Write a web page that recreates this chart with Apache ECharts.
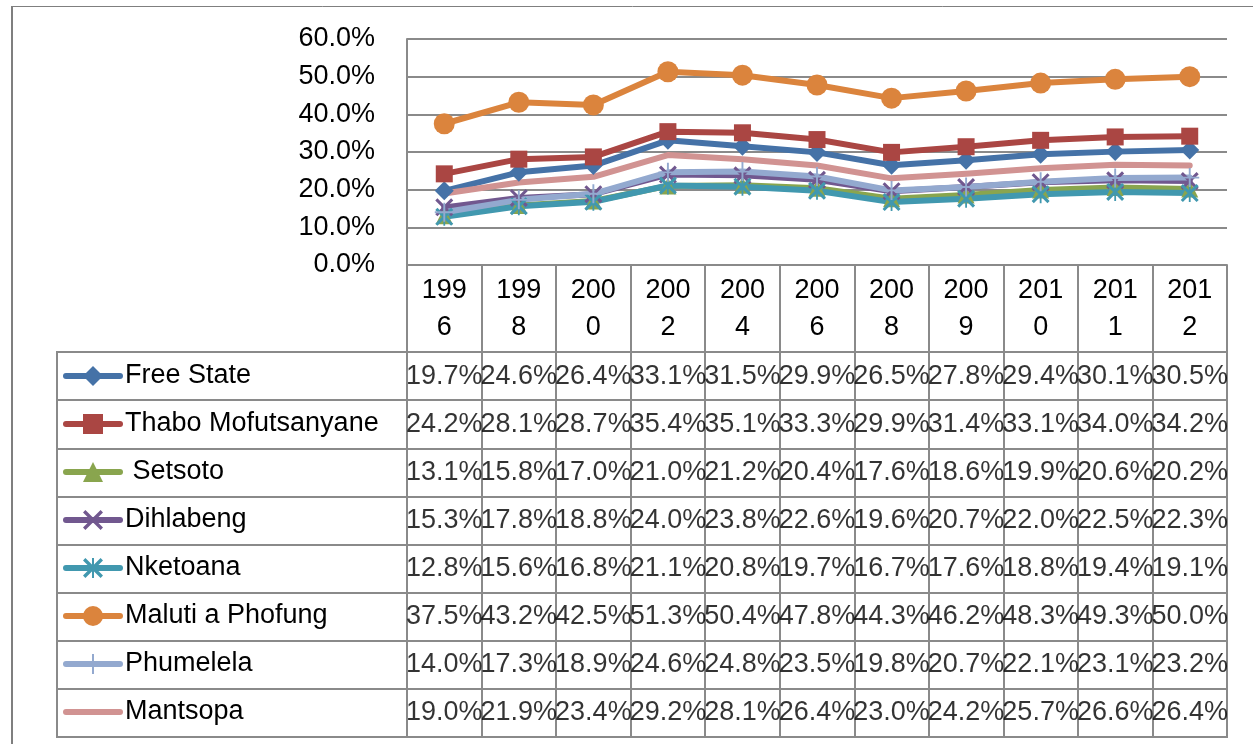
<!DOCTYPE html>
<html>
<head>
<meta charset="utf-8">
<script src="https://cdn.jsdelivr.net/npm/echarts@6/dist/echarts.min.js"></script>
<style>html,body{margin:0;padding:0;background:#fff;}#c{width:1253px;height:744px;}</style>
</head>
<body>
<div id="c"></div>
<script>
const years = ['1996','1998','2000','2002','2004','2006','2008','2009','2010','2011','2012'];
const names = ['Free State','Thabo Mofutsanyane',' Setsoto','Dihlabeng','Nketoana','Maluti a Phofung','Phumelela','Mantsopa'];
const freeState = [19.7,24.6,26.4,33.1,31.5,29.9,26.5,27.8,29.4,30.1,30.5];
const thaboMofutsanyane = [24.2,28.1,28.7,35.4,35.1,33.3,29.9,31.4,33.1,34.0,34.2];
const setsoto = [13.1,15.8,17.0,21.0,21.2,20.4,17.6,18.6,19.9,20.6,20.2];
const dihlabeng = [15.3,17.8,18.8,24.0,23.8,22.6,19.6,20.7,22.0,22.5,22.3];
const nketoana = [12.8,15.6,16.8,21.1,20.8,19.7,16.7,17.6,18.8,19.4,19.1];
const malutiAPhofung = [37.5,43.2,42.5,51.3,50.4,47.8,44.3,46.2,48.3,49.3,50.0];
const phumelela = [14.0,17.3,18.9,24.6,24.8,23.5,19.8,20.7,22.1,23.1,23.2];
const mantsopa = [19.0,21.9,23.4,29.2,28.1,26.4,23.0,24.2,25.7,26.6,26.4];
const yTicks = [0,10,20,30,40,50,60];

const seriesValues = [freeState, thaboMofutsanyane, setsoto, dihlabeng, nketoana, malutiAPhofung, phumelela, mantsopa];
const colors = ['#4572A7','#AA4643','#89A54E','#71588F','#4198AF','#DB843D','#93A9CF','#D19392'];
const X = 'path://M0,1.2L1.2,0L10,8.8L8.8,10Z M8.8,0L10,1.2L1.2,10L0,8.8Z';
const STAR = 'path://M0,1.2L1.2,0L10,8.8L8.8,10Z M8.8,0L10,1.2L1.2,10L0,8.8Z M4.5,0L5.5,0L5.5,10L4.5,10Z';
const PLUS = 'path://M4.5,0L5.5,0L5.5,10L4.5,10Z M0,4.5L10,4.5L10,5.5L0,5.5Z';
const symbols = ['diamond','rect','triangle',X,STAR,'circle',PLUS,'none'];
const symbolSizes = [19,17,17,18,18,21,19,0];

const FONT = 'Liberation Sans';
const FS = 27;
const GRAY = '#8a8a8a';

const lineSeries = names.map((n,i)=>({
  name: n, type: 'line', xAxisIndex: 0, yAxisIndex: 0,
  data: seriesValues[i],
  symbol: symbols[i], symbolSize: symbolSizes[i], showSymbol: symbols[i] !== 'none',
  lineStyle: {color: colors[i], width: 6, cap: 'round', join: 'round'},
  itemStyle: {color: colors[i]},
  emphasis: {disabled: true}, silent: true, animation: false
}));

const cellData = [];
seriesValues.forEach((vals,i)=>vals.forEach((v,j)=>cellData.push([j,i,v])));

const legendData = names.map((n,i)=> symbols[i] === 'none' ? {name: n, itemStyle: {opacity: 0}} : {name: n});

const chart = echarts.init(document.getElementById('c'), null, {renderer:'canvas'});
chart.setOption({
  backgroundColor: '#fff',
  animation: false,
  textStyle: {fontFamily: FONT},
  graphic: [
    {type:'line', shape:{x1:12,y1:6,x2:12,y2:744}, style:{stroke:'#7f7f7f', lineWidth:2}, silent:true},
    {type:'line', shape:{x1:12,y1:6.5,x2:1253,y2:6.5}, style:{stroke:'#7f7f7f', lineWidth:1}, silent:true}
  ],
  legend: {
    orient: 'vertical', left: 63, top: 352, padding: 0, itemGap: 0,
    itemWidth: 54, itemHeight: 25, selectedMode: false,
    lineStyle: {width: 6, cap: 'round'},
    textStyle: {fontSize: FS, lineHeight: 48, color: '#000', fontFamily: FONT},
    data: legendData
  },
  grid: [
    {left: 407, right: 26, top: 39, height: 226, containLabel: false},
    {left: 407, right: 26, top: 352, bottom: 7, show: true, borderColor: GRAY, borderWidth: 2},
    {left: 57, width: 350, top: 352, bottom: 7, show: true, borderColor: GRAY, borderWidth: 2}
  ],
  xAxis: [
    {gridIndex: 0, type: 'category', data: years, boundaryGap: true,
     axisLine: {lineStyle: {color: GRAY, width: 2}},
     axisTick: {show: true, interval: 0, length: 87, lineStyle: {color: GRAY, width: 2}},
     axisLabel: {interval: 0, margin: 7, fontSize: FS, lineHeight: 37, color: '#000', fontFamily: FONT,
       formatter: s => s.slice(0,3) + '\n' + s.slice(3)}},
    {gridIndex: 1, type: 'category', data: years, boundaryGap: true,
     axisLine: {show: false}, axisTick: {show: false}, axisLabel: {show: false},
     splitLine: {show: true, interval: 0, lineStyle: {color: GRAY, width: 2}}},
    {gridIndex: 2, type: 'value', show: false, min: 0, max: 1}
  ],
  yAxis: [
    {gridIndex: 0, type: 'value', min: yTicks[0], max: yTicks[yTicks.length-1], interval: 10,
     axisLine: {show: true, lineStyle: {color: GRAY, width: 2}},
     axisTick: {show: false},
     splitLine: {show: true, lineStyle: {color: GRAY, width: 2}},
     axisLabel: {margin: 32, fontSize: FS, color: '#000', fontFamily: FONT, formatter: v => v.toFixed(1) + '%'}},
    {gridIndex: 1, type: 'category', data: names, inverse: true, boundaryGap: true,
     axisLine: {show: false}, axisTick: {show: false}, axisLabel: {show: false},
     splitLine: {show: true, interval: 0, lineStyle: {color: GRAY, width: 2}}},
    {gridIndex: 2, type: 'category', data: names, inverse: true, boundaryGap: true,
     axisLine: {show: false}, axisTick: {show: false}, axisLabel: {show: false},
     splitLine: {show: true, interval: 0, lineStyle: {color: GRAY, width: 2}}}
  ],
  series: lineSeries.concat([{
    name: 'cells', type: 'scatter', xAxisIndex: 1, yAxisIndex: 1,
    data: cellData, symbolSize: 0, silent: true, emphasis: {disabled: true},
    label: {show: true, position: 'inside', color: '#000', fontSize: FS, fontFamily: FONT,
      formatter: p => p.data[2].toFixed(1) + '%'}
  }])
});
</script>
</body>
</html>
